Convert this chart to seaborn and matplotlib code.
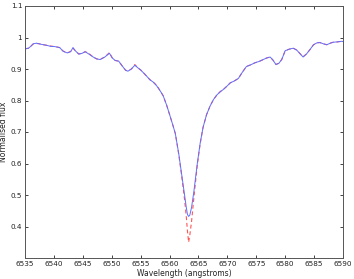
import matplotlib
matplotlib.use("Agg")
import matplotlib.pyplot as plt
import seaborn as sns
import numpy as np

wavelength = [6535.0, 6535.6, 6536.0, 6536.4, 6537.0, 6537.6, 6538.2, 6538.8, 6539.4, 6540.2,
              6541.0, 6541.6, 6542.3, 6542.9, 6543.3, 6543.7, 6544.3, 6544.9, 6545.4, 6546.0,
              6546.8, 6547.4, 6548.0, 6548.8, 6549.6, 6550.1, 6550.6, 6551.2, 6551.8, 6552.4,
              6552.8, 6553.4, 6554.0, 6554.5, 6555.0, 6555.8, 6556.6, 6557.2, 6557.8, 6558.4,
              6558.9, 6559.5, 6560.1, 6560.6, 6561.0, 6561.6, 6562.1, 6562.6, 6562.9, 6563.1,
              6563.3, 6563.5, 6563.8, 6564.2, 6564.8, 6565.3, 6565.8, 6566.4, 6567.0, 6567.6,
              6568.2, 6568.8, 6569.3, 6569.9, 6570.5, 6571.2, 6571.9, 6572.6, 6573.3, 6574.0,
              6574.8, 6575.5, 6576.2, 6576.8, 6577.4, 6577.9, 6578.4, 6578.9, 6579.4, 6580.0,
              6580.7, 6581.4, 6582.0, 6582.6, 6583.1, 6583.7, 6584.3, 6584.9, 6585.5, 6586.0,
              6586.6, 6587.2, 6587.8, 6588.3, 6589.0, 6589.8, 6590.0]

observed_flux = [0.964, 0.966, 0.972, 0.980, 0.982, 0.979, 0.977, 0.975, 0.972, 0.971,
                 0.968, 0.956, 0.951, 0.955, 0.968, 0.958, 0.947, 0.950, 0.955, 0.948,
                 0.938, 0.932, 0.930, 0.938, 0.950, 0.935, 0.927, 0.925, 0.910, 0.896,
                 0.893, 0.900, 0.912, 0.904, 0.897, 0.882, 0.866, 0.858, 0.846, 0.830,
                 0.815, 0.785, 0.750, 0.720, 0.695, 0.630, 0.565, 0.500, 0.460, 0.438,
                 0.432, 0.436, 0.460, 0.510, 0.600, 0.665, 0.715, 0.755, 0.782, 0.803,
                 0.818, 0.828, 0.835, 0.845, 0.856, 0.862, 0.870, 0.890, 0.908, 0.913,
                 0.920, 0.924, 0.930, 0.935, 0.938, 0.928, 0.914, 0.918, 0.930, 0.958,
                 0.963, 0.966, 0.960, 0.948, 0.938, 0.948, 0.962, 0.977, 0.983, 0.984,
                 0.980, 0.977, 0.982, 0.985, 0.986, 0.988, 0.987]

model_flux = [0.964, 0.966, 0.972, 0.979, 0.981, 0.980, 0.977, 0.975, 0.973, 0.971,
              0.968, 0.957, 0.951, 0.956, 0.966, 0.958, 0.948, 0.950, 0.955, 0.950,
              0.938, 0.932, 0.931, 0.938, 0.952, 0.935, 0.927, 0.925, 0.910, 0.896,
              0.894, 0.900, 0.914, 0.904, 0.897, 0.882, 0.866, 0.858, 0.848, 0.830,
              0.815, 0.785, 0.750, 0.720, 0.695, 0.628, 0.560, 0.485, 0.430, 0.385,
              0.350, 0.372, 0.415, 0.490, 0.595, 0.663, 0.715, 0.755, 0.782, 0.803,
              0.818, 0.829, 0.835, 0.845, 0.856, 0.862, 0.870, 0.890, 0.908, 0.913,
              0.920, 0.924, 0.930, 0.935, 0.938, 0.928, 0.915, 0.918, 0.930, 0.958,
              0.963, 0.966, 0.960, 0.948, 0.939, 0.948, 0.962, 0.977, 0.983, 0.984,
              0.980, 0.977, 0.982, 0.985, 0.986, 0.988, 0.987]

x_ticks = [6535, 6540, 6545, 6550, 6555, 6560, 6565, 6570, 6575, 6580, 6585, 6590]
y_ticks = [0.4, 0.5, 0.6, 0.7, 0.8, 0.9, 1.0, 1.1]
y_tick_labels = ["0.4", "0.5", "0.6", "0.7", "0.8", "0.9", "1", "1.1"]

sns.set_style("white")
plt.rcParams['font.family'] = ['DejaVu Sans']

fig = plt.figure(figsize=(3.54, 2.79), dpi=100)
ax = fig.add_axes([25/354, 1-258/279, 318/354, 252/279])

sns.lineplot(x=wavelength, y=model_flux, ax=ax, color='#ff5555', linewidth=0.8,
             sort=False, legend=False, dashes=False, linestyle=(0, (3.5, 2.5)))
sns.lineplot(x=wavelength, y=observed_flux, ax=ax, color='#5f6fff', linewidth=0.7,
             sort=False, legend=False)

ax.set_xlim(6535, 6590)
ax.set_ylim(0.3, 1.1)
ax.set_xticks(x_ticks)
ax.set_xticklabels([str(t) for t in x_ticks])
ax.set_yticks(y_ticks)
ax.set_yticklabels(y_tick_labels)
ax.tick_params(direction='in', length=2.2, width=0.6, labelsize=5.2, colors='#222222',
               top=True, right=True, bottom=True, left=True, pad=2)
for s in ax.spines.values():
    s.set_color('#555555')
    s.set_linewidth(0.7)
    s.set_visible(True)
ax.set_xlabel("Wavelength (angstroms)", fontsize=5.5, labelpad=1.5, color='#222222')
ax.set_ylabel("Normalised flux", fontsize=5.5, labelpad=2, color='#222222')

fig.savefig("out.png", dpi=100)
